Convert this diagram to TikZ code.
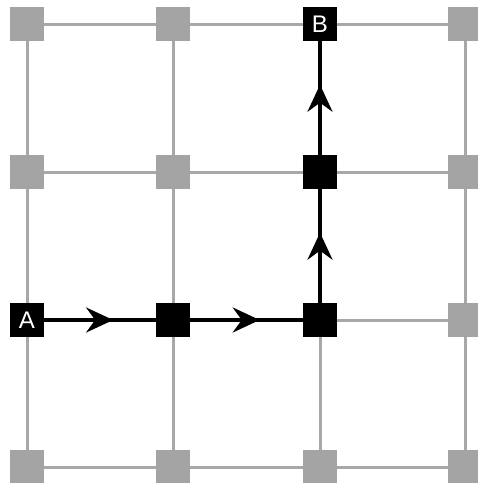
\documentclass[tikz,border=0pt]{standalone}
\usepackage{fontspec}
\setmainfont{Liberation Sans}
\usetikzlibrary{arrows.meta,decorations.markings}
\definecolor{gridgray}{HTML}{A8A8A8}
\definecolor{cellgray}{HTML}{A4A4A4}
\begin{document}
\begin{tikzpicture}[x=1pt,y=-1pt,
  cell/.style={rectangle,minimum size=34pt,inner sep=0pt,fill=cellgray},
  pathcell/.style={rectangle,minimum size=34pt,inner sep=0pt,fill=black,
    text=white,font=\fontsize{24}{24}\selectfont},
  gridline/.style={draw=gridgray,line width=3pt},
  route/.style={draw=black,line width=3.5pt,
    decoration={markings,mark=at position 0.59 with
      {\arrow{Stealth[length=27pt,width=25pt,inset=9pt]}}},
    postaction={decorate}}]
\useasboundingbox (0,0) rectangle (478,483);
% grid lines
\foreach \x in {27,173,320,465}
  \draw[gridline] (\x,24) -- (\x,467);
\foreach \y in {24,172,320,467}
  \draw[gridline] (27,\y) -- (465,\y);
% grey cells
\foreach \x/\c in {27/a,173/b,320/c,465/d}
  \foreach \y/\r in {24/1,172/2,320/3,467/4}
    \node[cell] (g\c\r) at (\x,\y) {};
% route cells
\node[pathcell] (A) at (27,320) {A};
\node[pathcell] (P1) at (173,320) {};
\node[pathcell] (P2) at (320,320) {};
\node[pathcell] (P3) at (320,172) {};
\node[pathcell] (B) at (320,24) {B};
% route
\path[route] (A.center) -- (P1.center);
\path[route] (P1.center) -- (P2.center);
\path[route] (P2.center) -- (P3.center);
\path[route] (P3.center) -- (B.center);
\node[pathcell] at (A) {A};
\node[pathcell] at (P1) {};
\node[pathcell] at (P2) {};
\node[pathcell] at (P3) {};
\node[pathcell] at (B) {B};
\end{tikzpicture}
\end{document}
